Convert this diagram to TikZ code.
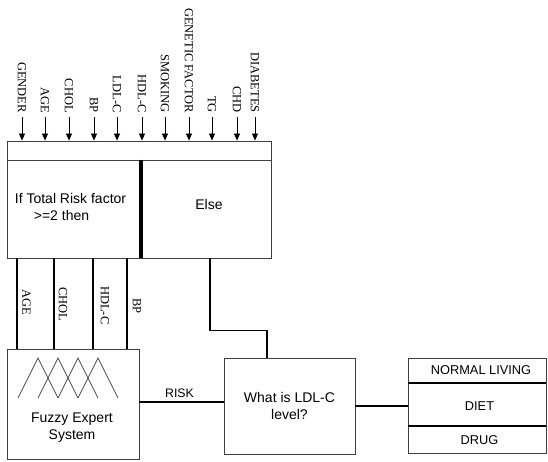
\documentclass[tikz,border=0pt]{standalone}
\usepackage{fontspec}
\setmainfont{Liberation Serif}
\newfontfamily\arial{Liberation Sans}
\usetikzlibrary{arrows.meta}
\begin{document}
\begin{tikzpicture}[x=1pt,y=-1pt,
  boxst/.style={draw=black!75, line width=0.9pt, inner sep=0pt},
  inlab/.style={font=\fontsize{12.5}{14}\selectfont, rotate=-90, anchor=east, inner sep=0pt},
  sublab/.style={font=\fontsize{12.5}{14}\selectfont, rotate=-90, anchor=west, inner sep=0pt},
  sans/.style={font=\arial\fontsize{14}{17.5}\selectfont, align=center, inner sep=0pt},
  smallsans/.style={font=\arial\fontsize{12.3}{14}\selectfont, inner sep=0pt},
  optsans/.style={font=\arial\fontsize{12.8}{14}\selectfont, inner sep=0pt},
  conn/.style={line width=1.6pt, black},
  arr/.style={line width=0.8pt, -{Triangle[length=7pt,width=6pt]}, shorten <=4pt},
  memb/.style={line width=0.7pt, black!70}]
\useasboundingbox (0,0) rectangle (548,462);

% rule box
\node[boxst, minimum width=264pt, minimum height=19pt] (strip) at (139,150.5) {};
\node[boxst, minimum width=134pt, minimum height=98pt] (ifbox) at (74,209) {};
\node[boxst, minimum width=130pt, minimum height=98pt] (elsebox) at (206,209) {};
\draw[line width=4pt] (elsebox.north west) -- (elsebox.south west);
\node[sans, align=left] (iftext) at (70.5,207) {If Total Risk factor\\\hspace*{19pt}>{}=2 then};
\node[sans] (elsetext) at (209,204) {Else};

% inputs
\foreach \x/\t/\n in {22/GENDER/gender, 45/AGE/age, 69/CHOL/chol, 94/BP/bp, 117/LDL-C/ldlc,
  142/HDL-C/hdlc, 165/SMOKING/smoking, 189/GENETIC FACTOR/genetic, 212/TG/tg, 237/CHD/chd, 255/DIABETES/diabetes}{
  \node[inlab] (in-\n) at (\x,113) {\t};
  \draw[arr] (in-\n.east) -- (in-\n.east |- strip.north);
}

% fuzzy expert system
\node[boxst, minimum width=132pt, minimum height=110pt] (fuzzy) at (73,404) {};
\node[sans] (fuzzytext) at (72,427.5) {Fuzzy Expert\\System};
\foreach \p in {38,58,78,98}{
  \draw[memb] (\p-20,398) -- (\p,358) -- (\p+20,398);
}

% connectors from rule box to fuzzy system
\foreach \d/\n in {-57/s1,-20/s2,19/s3,53/s4}{
  \coordinate (\n) at ([xshift=\d pt]ifbox.south);
  \draw[conn] (\n) -- (\n |- fuzzy.north);
}
\node[sublab] (sub-age) at (26.5,289) {AGE};
\node[sublab] (sub-chol) at (63,287) {CHOL};
\node[sublab] (sub-hdlc) at (105,286) {HDL-C};
\node[sublab] (sub-bp) at (137,298) {BP};

% LDL-C question
\node[boxst, minimum width=131pt, minimum height=96pt, sans] (ldl) at (289.5,406) {What is LDL-C\\level?};

% risk
\coordinate (r1) at ([yshift=2pt]fuzzy.east);
\draw[line width=1.3pt] (r1) -- (r1 -| ldl.west);
\node[smallsans] (risk) at (179.5,393) {RISK};

% else connector
\coordinate (eo) at ([xshift=4pt]elsebox.south);
\coordinate (li) at ([xshift=-22.5pt]ldl.north);
\draw[conn] (eo) -- ++(0,72) -| (li);

% options
\node[boxst, minimum width=138pt, minimum height=95pt] (opt) at (477,405.5) {};
\draw[conn] ([yshift=22.5pt]opt.west) -- ([yshift=22.5pt]opt.east);
\draw[conn] ([yshift=-20.5pt]opt.west) -- ([yshift=-20.5pt]opt.east);
\node[optsans] (normal) at (481,370) {NORMAL LIVING};
\node[optsans] (diet) at (479.5,406) {DIET};
\node[optsans] (drug) at (479.5,440) {DRUG};
\draw[conn] (ldl.east) -- (ldl.east -| opt.west);
\end{tikzpicture}
\end{document}
